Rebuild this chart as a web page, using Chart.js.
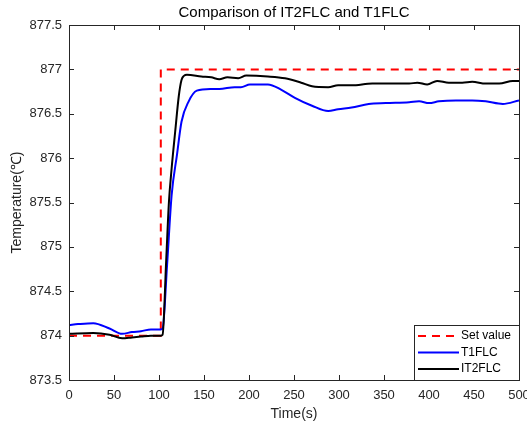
<!DOCTYPE html>
<html>
<head>
<meta charset="utf-8">
<script src="https://cdn.jsdelivr.net/npm/chart.js@4"></script>
<style>
  html, body { margin: 0; padding: 0; background: #fff; }
  #chart { display: block; }
</style>
</head>
<body>
<canvas id="chart" width="527" height="426"></canvas>
<script>
// reference value (step at ~102 s)
const setTime = [0, 102, 102, 500];
const setValue = [874, 874, 877, 877];

// T1FLC response
const t1Time = [0, 10, 27, 45, 59, 70, 80, 91, 102, 104, 109, 114, 120, 125, 133, 142, 157, 167, 184, 191, 201, 221, 236, 251, 270, 288, 299, 314, 333, 352, 378, 389, 400, 411, 430, 448, 463, 482, 500];
const t1Value = [874.12, 874.13, 874.14, 874.08, 874.02, 874.04, 874.05, 874.07, 874.07, 874.08, 874.8, 875.58, 876.04, 876.41, 876.64, 876.76, 876.78, 876.78, 876.80, 876.80, 876.83, 876.83, 876.77, 876.68, 876.59, 876.53, 876.55, 876.57, 876.61, 876.62, 876.63, 876.64, 876.62, 876.64, 876.65, 876.65, 876.64, 876.61, 876.65];

// IT2FLC response
const it2Time = [0, 27, 45, 59, 70, 80, 91, 102, 104, 108, 111, 114, 118, 122, 125, 128, 131, 147, 158, 167, 176, 188, 197, 221, 240, 258, 270, 288, 299, 314, 337, 359, 378, 387, 398, 409, 422, 437, 448, 463, 478, 493, 500];
const it2Value = [874.02, 874.03, 874.01, 873.97, 873.98, 873.99, 874.0, 874.0, 874.01, 874.85, 875.5, 875.88, 876.3, 876.7, 876.88, 876.93, 876.94, 876.92, 876.91, 876.89, 876.91, 876.90, 876.93, 876.92, 876.90, 876.85, 876.81, 876.80, 876.82, 876.82, 876.84, 876.84, 876.84, 876.85, 876.83, 876.87, 876.85, 876.85, 876.86, 876.84, 876.84, 876.87, 876.87];

const xTicks = [0, 50, 100, 150, 200, 250, 300, 350, 400, 450, 500];
const yTicks = [873.5, 874, 874.5, 875, 875.5, 876, 876.5, 877, 877.5];

const axisColor = '#262626';
Chart.defaults.font.family = '"Liberation Sans", Arial, sans-serif';
Chart.defaults.color = axisColor;

const toPoints = (xs, ys) => xs.map((x, i) => ({ x: x, y: ys[i] }));

// box round the axes plus MATLAB-like inward ticks
const axesBox = {
  id: 'axesBox',
  afterDatasetsDraw(chart) {
    const { ctx, chartArea: a, scales } = chart;
    ctx.save();
    ctx.strokeStyle = axisColor;
    ctx.lineWidth = 1;
    ctx.beginPath();
    scales.x.ticks.forEach(t => {
      const px = Math.round(scales.x.getPixelForValue(t.value)) + 0.5;
      ctx.moveTo(px, a.bottom); ctx.lineTo(px, a.bottom - 5);
      ctx.moveTo(px, a.top); ctx.lineTo(px, a.top + 5);
    });
    scales.y.ticks.forEach(t => {
      const py = Math.round(scales.y.getPixelForValue(t.value)) + 0.5;
      ctx.moveTo(a.left, py); ctx.lineTo(a.left + 5, py);
      ctx.moveTo(a.right, py); ctx.lineTo(a.right - 5, py);
    });
    ctx.stroke();
    ctx.strokeRect(Math.round(a.left) + 0.5, Math.round(a.top) + 0.5,
      Math.round(a.right - a.left), Math.round(a.bottom - a.top));
    ctx.restore();
  }
};

// legend box in the lower right corner of the axes
const cornerLegend = {
  id: 'cornerLegend',
  afterDraw(chart) {
    const { ctx, chartArea: a } = chart;
    const w = 105, h = 55;
    const x0 = Math.round(a.right) - w, y0 = Math.round(a.bottom) - h;
    ctx.save();
    ctx.fillStyle = '#fff';
    ctx.fillRect(x0, y0, w, h);
    ctx.strokeStyle = axisColor;
    ctx.lineWidth = 1;
    ctx.strokeRect(x0 + 0.5, y0 + 0.5, w, h);
    ctx.font = '12px "Liberation Sans", Arial, sans-serif';
    ctx.textBaseline = 'middle';
    chart.data.datasets.forEach((ds, i) => {
      const y = y0 + 11 + i * 16.5;
      ctx.beginPath();
      ctx.strokeStyle = ds.borderColor;
      ctx.lineWidth = ds.borderWidth;
      ctx.setLineDash(ds.borderDash || []);
      ctx.moveTo(x0 + 4, y);
      ctx.lineTo(x0 + 45, y);
      ctx.stroke();
      ctx.setLineDash([]);
      ctx.fillStyle = '#000';
      ctx.fillText(ds.label, x0 + 47, y);
    });
    ctx.restore();
  }
};

new Chart(document.getElementById('chart'), {
  type: 'line',
  data: {
    datasets: [
      {
        label: 'Set value',
        data: toPoints(setTime, setValue),
        borderColor: '#ff0000',
        borderWidth: 2,
        borderDash: [8, 6],
        pointRadius: 0,
        tension: 0,
        order: 3,
      },
      {
        label: 'T1FLC',
        data: toPoints(t1Time, t1Value),
        borderColor: '#0000ff',
        borderWidth: 2,
        pointRadius: 0,
        cubicInterpolationMode: 'monotone',
        order: 2,
      },
      {
        label: 'IT2FLC',
        data: toPoints(it2Time, it2Value),
        borderColor: '#000000',
        borderWidth: 2,
        pointRadius: 0,
        cubicInterpolationMode: 'monotone',
        order: 1,
      },
    ],
  },
  options: {
    responsive: false,
    animation: false,
    layout: { padding: { left: 0, right: 8, top: 0, bottom: 0 } },
    plugins: {
      legend: { display: false },
      tooltip: { enabled: false },
      title: { display: false },
    },
    scales: {
      // empty top axis: only carries the title, centred over the plot
      top: {
        type: 'linear',
        position: 'top',
        min: 0,
        max: 500,
        grid: { display: false, drawTicks: false },
        border: { display: false },
        ticks: { display: false },
        afterFit: s => { s.height = 25; s.paddingLeft = 0; s.paddingRight = 0; },
        title: {
          display: true,
          text: 'Comparison of IT2FLC and T1FLC',
          color: '#000',
          font: { size: 15 },
          padding: { top: 4, bottom: 0 },
        },
      },
      x: {
        type: 'linear',
        min: 0,
        max: 500,
        grid: { display: false, drawTicks: false },
        border: { display: false },
        afterBuildTicks: s => { s.ticks = xTicks.map(v => ({ value: v })); },
        afterFit: s => { s.height = 46; s.paddingLeft = 0; s.paddingRight = 0; },
        ticks: { font: { size: 13 }, padding: 8, maxRotation: 0, callback: v => String(v) },
        title: { display: true, text: 'Time(s)', font: { size: 14 }, padding: { top: 0, bottom: 3 } },
      },
      y: {
        min: 873.5,
        max: 877.5,
        grid: { display: false, drawTicks: false },
        border: { display: false },
        afterBuildTicks: s => { s.ticks = yTicks.map(v => ({ value: v })); },
        afterFit: s => { s.width = 69; s.paddingTop = 0; s.paddingBottom = 0; },
        ticks: { font: { size: 13 }, padding: 7, callback: v => String(+v.toFixed(1)) },
        title: { display: true, text: 'Temperature(℃)', font: { size: 14 }, padding: { top: 9, bottom: 0 } },
      },
    },
  },
  plugins: [axesBox, cornerLegend],
});
</script>
</body>
</html>
